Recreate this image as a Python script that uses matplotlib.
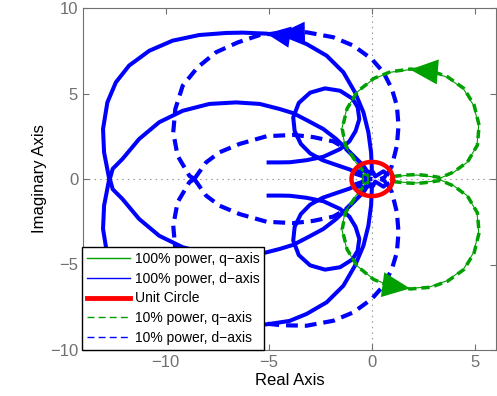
import numpy as np
import matplotlib.pyplot as plt
from matplotlib.lines import Line2D

plt.rcParams['font.family'] = ['Liberation Sans', 'DejaVu Sans']
plt.rcParams['lines.scale_dashes'] = False

# upper halves (Im >= 0) of the Nyquist curves; lower halves are mirrored
# 100% power, d-axis (solid blue)
dA_re = [-12.73, -12.98, -13.03, -12.82, -12.41, -11.77, -10.79, -9.66, -8.37, -7.07, -6.26,
         -5.11, -4.0, -3.17, -2.2, -1.39, -0.83, -0.42, -0.18, -0.05, -0.02, 0.0]
dA_im = [0.0, 1.56, 2.92, 4.48, 5.65, 6.63, 7.5, 8.09, 8.42, 8.54, 8.56,
         8.5, 8.3, 7.89, 7.21, 6.24, 5.07, 3.9, 2.73, 1.56, 0.78, 0.2]
dB_re = [-12.7, -12.56, -12.09, -11.28, -10.31, -9.17, -7.88, -6.59, -5.44, -4.47, -3.82,
         -3.1, -2.36, -1.75, -1.23, -0.42, -0.1]
dB_im = [0.0, 0.6, 1.17, 2.34, 3.32, 3.99, 4.39, 4.48, 4.39, 4.09, 3.85,
         3.4, 2.92, 2.35, 1.75, 0.78, 0.19]
dC_re = [-5.11, -4.5, -3.98, -3.17, -2.36, -1.55, -1.1, -0.8, -0.62, -0.7, -0.95, -1.55,
         -2.28, -3.0, -3.55, -3.82, -3.75, -3.45, -3.0, -2.4, -1.8, -1.07, -0.5]
dC_im = [0.97, 0.97, 0.98, 1.1, 1.3, 1.75, 2.2, 2.8, 3.5, 4.2, 4.7, 5.16,
         5.3, 5.05, 4.45, 3.6, 2.8, 2.05, 1.5, 1.1, 0.85, 0.55, 0.22]
dH_re = [0.0, -0.3, -0.8, -0.85, -0.4, 0.05, 0.15, 0.35, 0.55, 0.7, 0.6, 0.4]
dH_im = [0.0, 0.1, 0.3, 0.45, 0.45, 0.4, 0.15, 0.3, 0.45, 0.3, 0.1, 0.0]

# 10% power, d-axis (dashed blue)
dD1_re = [0.71, 0.96, 1.2, 1.28, 1.2, 0.96, 0.55, -0.02, -0.91, -1.88, -3.17, -4.4, -5.44,
          -6.5, -7.56, -8.45, -9.17, -9.53, -9.63, -9.42, -8.85, -8.61]
dD1_im = [0.19, 0.78, 1.95, 3.12, 4.29, 5.26, 6.24, 7.02, 7.8, 8.29, 8.58, 8.55, 8.42,
          7.99, 7.41, 6.53, 5.46, 4.09, 2.73, 1.36, 0.19, 0.0]
dD2_re = [-8.61, -8.04, -7.39, -6.42, -5.11, -3.82, -2.85, -1.88, -1.3, -0.8, -0.4, -0.1]
dD2_im = [0.0, 0.97, 1.56, 2.05, 2.5, 2.58, 2.45, 2.2, 1.8, 1.2, 0.6, 0.15]

# q-axis (green), 100% and 10% nearly coincide
q_re = [1.0, 1.6, 2.17, 2.8, 3.3, 3.95, 4.6, 5.08, 5.16, 4.92, 4.43, 3.63, 2.82, 1.84,
        0.87, 0.06, -0.74, -1.23, -1.47, -1.31, -0.91, -0.42, -0.2]
q_im = [0.12, 0.2, 0.23, 0.15, 0.05, 0.39, 0.97, 1.95, 3.12, 4.29, 5.26, 5.95, 6.3, 6.4,
        6.24, 5.85, 5.07, 4.09, 2.92, 1.95, 1.17, 0.39, 0.15]
q10_re = [v + 0.02 for v in q_re]
q10_im = [v + 0.03 for v in q_im]
qH_re = [-0.45, -0.45, -0.2, -0.2]
qH_im = [0.0, 0.22, 0.22, 0.0]

blue = '#0000ff'
green = '#00a000'
red = '#ff0000'

fig = plt.figure(figsize=(4.97, 3.96), dpi=100)
ax = fig.add_axes([83 / 497, 46 / 396, 413 / 497, 342 / 396])


def both(re, im, **kw):
    re = np.array(re)
    im = np.array(im)
    ax.plot(re, im, **kw)
    ax.plot(re, -im, **kw)


solid_kw = dict(color=blue, lw=2.9, solid_capstyle='butt', solid_joinstyle='round', zorder=3)
for re, im in [(dA_re, dA_im), (dB_re, dB_im), (dC_re, dC_im), (dH_re, dH_im)]:
    both(re, im, **solid_kw)

dash_kw = dict(color=blue, lw=3.0, ls=(0, (8.5, 5)), dash_capstyle='butt',
               dash_joinstyle='round', zorder=4)
for re, im in [(dD1_re, dD1_im), (dD2_re, dD2_im)]:
    both(re, im, **dash_kw)

both(q_re, q_im, color=green, lw=0.8, zorder=5)
both(q10_re, q10_im, color=green, lw=2.5, ls=(0, (6, 3.5)), dash_capstyle='butt',
     dash_joinstyle='round', zorder=5)
both(qH_re, qH_im, color=green, lw=1.2, zorder=5)

th = np.linspace(0, 2 * np.pi, 200)
ax.plot(np.cos(th), np.sin(th), color=red, lw=3.2, zorder=6)


def head(tip, tail, color, ms, hl, hw):
    ax.annotate('', xy=tip, xytext=tail,
                arrowprops=dict(arrowstyle='-|>,head_length=%g,head_width=%g' % (hl, hw),
                                mutation_scale=ms, color=color, lw=0,
                                shrinkA=0, shrinkB=0), zorder=7)


head((dA_re[11], dA_im[11]), (dA_re[12], dA_im[12]), blue, 17, 1.0, 0.45)
head((dD1_re[11], dD1_im[11]), (dD1_re[10], dD1_im[10]), blue, 17, 1.0, 0.45)
head((q_re[13], q_im[13]), (q_re[12], q_im[12]), green, 20, 1.0, 0.45)
head((q_re[13], -q_im[13]), (q_re[14], -q_im[14]), green, 20, 1.0, 0.45)

ax.axhline(0, color='#909090', lw=0.8, ls=(0, (1, 3)), zorder=1)
ax.axvline(0, color='#909090', lw=0.8, ls=(0, (1, 3)), zorder=1)

ax.set_xlim(-14, 6)
ax.set_ylim(-10, 10)
ax.set_xticks([-10, -5, 0, 5])
ax.set_yticks([-10, -5, 0, 5, 10])
ax.set_xticklabels(['\u221210', '\u22125', '0', '5'])
ax.set_yticklabels(['\u221210', '\u22125', '0', '5', '10'])
ax.tick_params(direction='in', length=4, top=True, right=True, labelsize=12,
               colors='#707070', labelcolor='#707070', width=0.8)
for s in ax.spines.values():
    s.set_color('#707070')
    s.set_linewidth(0.8)
ax.set_xlabel('Real Axis', fontsize=12, labelpad=2)
ax.set_ylabel('Imaginary Axis', fontsize=12, labelpad=2)

handles = [
    Line2D([], [], color=green, lw=1),
    Line2D([], [], color=blue, lw=1),
    Line2D([], [], color=red, lw=3.5),
    Line2D([], [], color=green, lw=1, ls=(0, (5, 3))),
    Line2D([], [], color=blue, lw=1, ls=(0, (5, 3))),
]
labels = ['100% power, q\u2212axis', '100% power, d\u2212axis', 'Unit Circle',
          '10% power, q\u2212axis', '10% power, d\u2212axis']
leg = ax.legend(handles, labels, loc='lower left', bbox_to_anchor=(-0.003, 0), borderaxespad=0,
                fontsize=10, handlelength=3.1, handletextpad=0.35, labelspacing=0.42,
                borderpad=0.35, fancybox=False, framealpha=1, edgecolor='black')
leg.get_frame().set_linewidth(1.0)
leg.set_zorder(10)

fig.savefig('out.png', dpi=100)
